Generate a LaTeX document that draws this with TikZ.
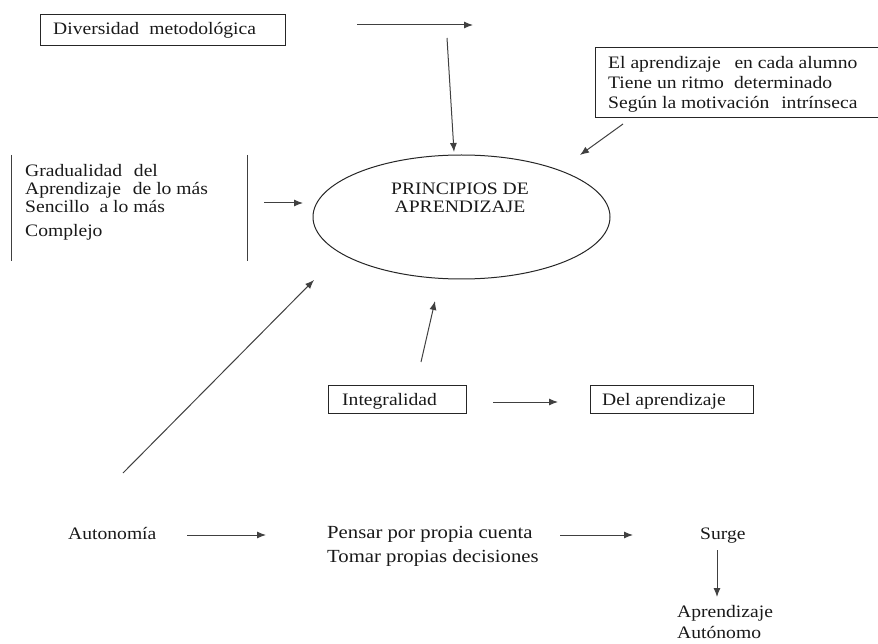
\documentclass[tikz,border=0pt]{standalone}
\usepackage{fontspec}
\setmainfont{Liberation Serif}[FakeStretch=1.12]
\usetikzlibrary{shapes.geometric,arrows.meta}
\begin{document}
\begin{tikzpicture}[x=1pt,y=-1pt,
  ln/.style={line width=1pt, draw=black!75},
  arr/.style={ln, -{Latex[length=9pt,width=7pt]}},
  txt/.style={font=\fontsize{17.5}{18}\selectfont, inner sep=0pt, anchor=base west, text=black!90},
  bigtxt/.style={txt, font=\fontsize{18.5}{19}\selectfont},
  ctxt/.style={txt, anchor=base},
  frame/.style={draw=black!85, line width=1pt, inner sep=0pt, anchor=north west},
]
\useasboundingbox (0,0) rectangle (878,644);

% Diversidad box
\node[frame, minimum width=245pt, minimum height=31pt] (divbox) at (40,14) {};
\node[txt] (div) at (53,35) {Diversidad\hspace{0.3em} metodológica};
\coordinate (t1) at (357,25);
\coordinate (t2) at (473,25);
\draw[arr] (t1) -- (t2);

% Ellipse
\node[draw=black!85, line width=1pt, ellipse, minimum width=297pt, minimum height=124pt, inner sep=0pt] (ell) at (461.5,217) {};
\node[ctxt] (p1) at (460,195) {PRINCIPIOS DE};
\node[ctxt] (p2) at (460,213) {APRENDIZAJE};

\coordinate (d1) at (447,38);
\coordinate (d2) at (454,152);
\draw[arr] (d1) -- (d2);

% Right box
\node[frame, minimum width=282.5pt, minimum height=70pt] (rbox) at (595,47) {};
\node[txt] (r1) at (608,69) {El aprendizaje\hspace{0.5em} en cada alumno};
\node[txt] (r2) at (608,89) {Tiene un ritmo\hspace{0.3em} determinado};
\node[txt] (r3) at (608,109) {Según la motivación\hspace{0.4em} intrínseca};
\coordinate (ra1) at (623,124);
\coordinate (ra2) at (580,155);
\draw[arr] (ra1) -- (ra2);

% Gradualidad
\coordinate (gl1) at (11,155);
\coordinate (gl2) at (11,261);
\coordinate (gr1) at (247,155);
\coordinate (gr2) at (247,261);
\draw[ln] (gl1) -- (gl2);
\draw[ln] (gr1) -- (gr2);
\node[txt] (g1) at (25,177) {Gradualidad\hspace{0.4em} del};
\node[txt] (g2) at (25,195) {Aprendizaje\hspace{0.4em} de lo más};
\node[txt] (g3) at (25,213) {Sencillo\hspace{0.3em} a lo más};
\node[txt] (g4) at (25,237) {Complejo};
\coordinate (ga1) at (264,203);
\coordinate (ga2) at (303,203);
\draw[arr] (ga1) -- (ga2);

% Diagonal from Autonomia
\coordinate (da1) at (123,473);
\coordinate (da2) at (314,280);
\draw[arr] (da1) -- (da2);

% Integralidad
\node[frame, minimum width=138pt, minimum height=28pt] (ibox) at (328,385) {};
\node[txt] (integ) at (342,405) {Integralidad};
\coordinate (ia1) at (421,362);
\coordinate (ia2) at (435,301);
\draw[arr] (ia1) -- (ia2);
\coordinate (ib1) at (493,402);
\coordinate (ib2) at (558,402);
\draw[arr] (ib1) -- (ib2);
\node[frame, minimum width=163pt, minimum height=28pt] (dbox) at (590,385) {};
\node[txt] (dela) at (602,405) {Del aprendizaje};

% Bottom row
\node[txt] (auto) at (68,539) {Autonomía};
\coordinate (aa1) at (187,535);
\coordinate (aa2) at (266,535);
\draw[arr] (aa1) -- (aa2);
\node[bigtxt] (pen1) at (327,538) {Pensar por propia cuenta};
\node[bigtxt] (pen2) at (327,562) {Tomar propias decisiones};
\coordinate (pa1) at (560,535);
\coordinate (pa2) at (633,535);
\draw[arr] (pa1) -- (pa2);
\node[txt] (surge) at (700,539) {Surge};
\coordinate (sa1) at (717,550);
\coordinate (sa2) at (717,597);
\draw[arr] (sa1) -- (sa2);
\node[txt] (ap1) at (677,617) {Aprendizaje};
\node[txt] (ap2) at (677,638) {Autónomo};
\end{tikzpicture}
\end{document}
